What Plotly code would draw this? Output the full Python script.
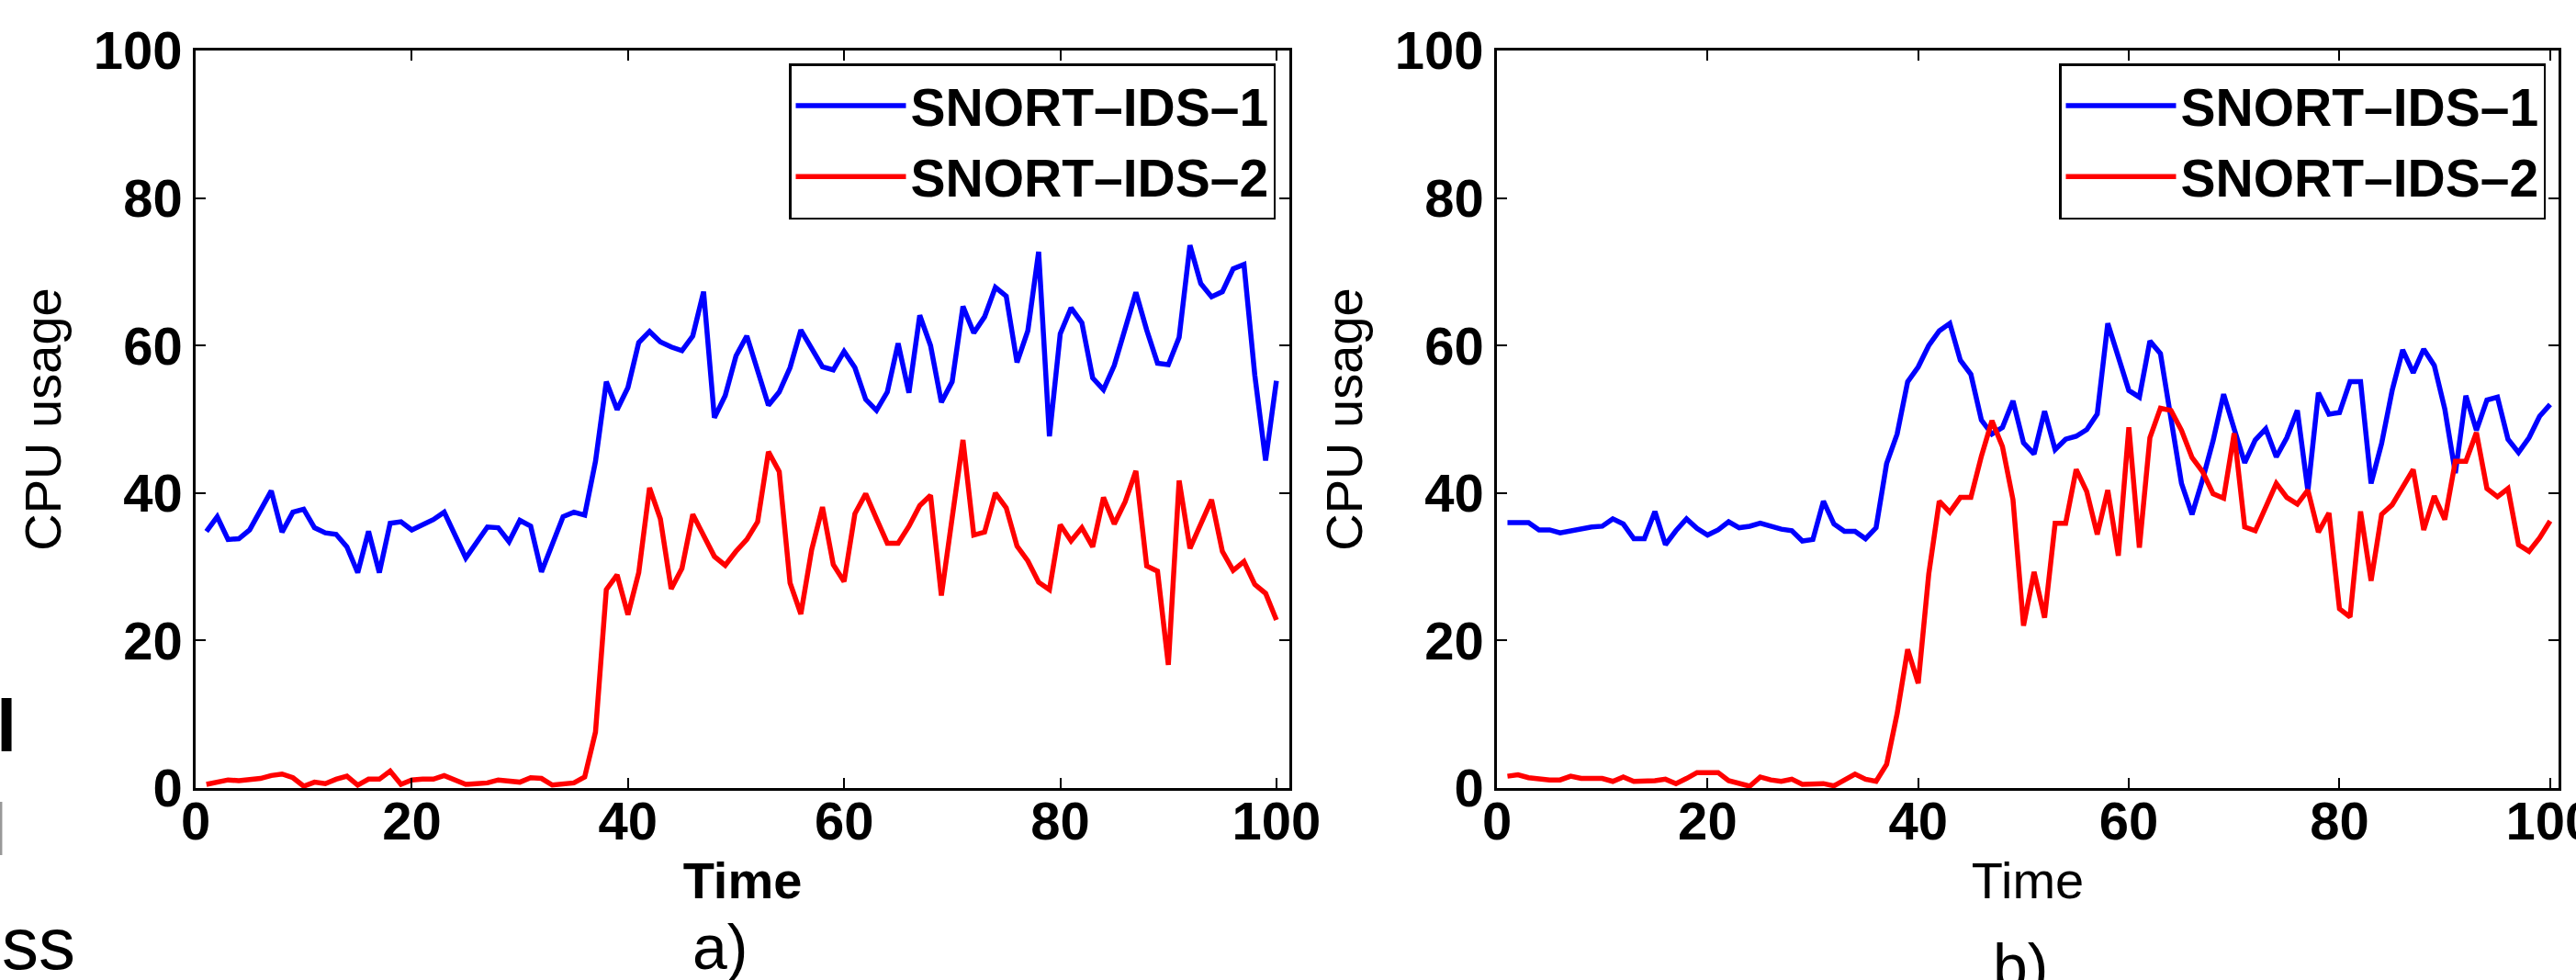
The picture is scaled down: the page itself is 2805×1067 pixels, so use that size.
import plotly.graph_objects as go

# ---------------- data ----------------
time = list(range(1, 101))

a_ids1 = [34.8, 36.8, 33.7, 33.8, 35.0, 37.8, 40.3, 34.7, 37.4, 37.8,
          35.3, 34.6, 34.4, 32.7, 29.2, 34.8, 29.2, 35.9, 36.1, 35.0,
          35.7, 36.4, 37.4, 34.3, 31.2, 33.3, 35.4, 35.3, 33.4, 36.3,
          35.5, 29.3, 32.9, 36.8, 37.4, 37.0, 44.3, 55.1, 51.3, 54.3,
          60.4, 61.9, 60.5, 59.8, 59.3, 61.3, 67.3, 50.2, 53.2, 58.6,
          61.3, 56.5, 51.9, 53.7, 57.0, 62.1, 59.7, 57.1, 56.7, 59.2,
          57.0, 52.7, 51.2, 53.7, 60.3, 53.6, 64.1, 60.0, 52.3, 55.1,
          65.3, 61.7, 63.9, 67.9, 66.7, 57.7, 62.0, 72.7, 47.7, 61.6,
          65.1, 63.1, 55.6, 54.0, 57.3, 62.1, 67.2, 62.1, 57.6, 57.4,
          61.1, 73.6, 68.4, 66.6, 67.3, 70.4, 71.0, 56.0, 44.4, 55.2]

a_ids2 = [0.5, 0.8, 1.1, 1.0, 1.2, 1.3, 1.7, 1.9, 1.4, 0.25,
          0.8, 0.6, 1.2, 1.6, 0.4, 1.2, 1.2, 2.3, 0.5, 1.1,
          1.2, 1.2, 1.7, 1.1, 0.5, 0.6, 0.7, 1.1, 1.0, 0.8,
          1.4, 1.3, 0.4, 0.5, 0.7, 1.5, 7.6, 26.9, 28.9, 23.5,
          29.2, 40.7, 36.5, 27.0, 29.8, 37.1, 34.3, 31.4, 30.2, 32.1,
          33.7, 36.1, 45.6, 42.9, 27.8, 23.6, 32.3, 38.1, 30.3, 28.0,
          37.2, 39.9, 36.5, 33.2, 33.2, 35.5, 38.3, 39.7, 26.1, 37.2,
          47.2, 34.3, 34.7, 40.0, 38.0, 32.8, 30.8, 27.9, 26.9, 35.7,
          33.5, 35.3, 32.7, 39.4, 35.8, 38.8, 43.0, 30.1, 29.4, 16.7,
          41.7, 32.5, 36.0, 39.1, 32.1, 29.5, 30.7, 27.6, 26.4, 22.8]

b_ids1 = [36.0, 36.0, 36.0, 35.0, 35.0, 34.6, 34.9, 35.1, 35.4, 35.5,
          36.5, 35.8, 33.8, 33.8, 37.5, 33.0, 34.9, 36.5, 35.2, 34.3,
          35.0, 36.1, 35.3, 35.5, 35.9, 35.5, 35.1, 34.9, 33.5, 33.7,
          38.9, 35.8, 34.8, 34.8, 33.8, 35.3, 44.0, 48.0, 55.1, 57.1,
          60.0, 62.0, 63.0, 58.0, 56.1, 49.9, 48.0, 48.9, 52.5, 46.8,
          45.3, 51.1, 45.9, 47.3, 47.7, 48.6, 50.7, 63.0, 58.5, 53.9,
          53.0, 60.6, 58.9, 50.1, 41.3, 37.1, 41.8, 47.1, 53.4, 48.7,
          44.1, 47.2, 48.7, 44.9, 47.5, 51.2, 40.3, 53.6, 50.7, 50.9,
          55.1, 55.1, 41.3, 46.7, 53.9, 59.4, 56.3, 59.5, 57.3, 51.4,
          42.7, 53.2, 48.5, 52.6, 53.0, 47.3, 45.5, 47.5, 50.4, 52.0]

b_ids2 = [1.6, 1.8, 1.4, 1.2, 1.1, 1.1, 1.6, 1.3, 1.3, 1.3,
          0.9, 1.5, 0.9, 0.9, 1.0, 1.2, 0.6, 1.3, 2.1, 2.1,
          2.1, 1.0, 0.6, 0.25, 1.5, 1.1, 0.9, 1.2, 0.5, 0.6,
          0.6, 0.3, 1.1, 1.9, 1.2, 0.9, 3.2, 10.1, 18.8, 14.2,
          29.0, 38.9, 37.4, 39.4, 39.4, 45.0, 49.8, 46.3, 39.1, 22.0,
          29.3, 23.1, 35.9, 35.9, 43.2, 40.2, 34.4, 40.4, 31.5, 48.9,
          32.6, 47.5, 51.5, 51.2, 48.5, 44.8, 42.9, 39.9, 39.3, 48.1,
          35.4, 34.9, 38.1, 41.3, 39.4, 38.5, 40.4, 34.7, 37.3, 24.3,
          23.2, 37.5, 28.1, 37.1, 38.4, 40.7, 43.2, 35.0, 39.6, 36.4,
          44.3, 44.3, 48.2, 40.6, 39.5, 40.6, 33.0, 32.1, 33.9, 36.2]

series_names = ["SNORT\u2013IDS\u20131", "SNORT\u2013IDS\u20132"]
series_colors = ["#0000ff", "#ff0000"]
tick_vals = [0, 20, 40, 60, 80, 100]

# ---------------- figure ----------------
W, H = 2805, 1067
FONT = "Liberation Sans, Arial, Helvetica, sans-serif"
LW = 5.5


def px(p):
    """page x pixel -> paper fraction"""
    return p / W


def py(p):
    """page y pixel (from top) -> paper fraction"""
    return (H - p) / H


fig = go.Figure()
fig.add_trace(go.Scatter(x=time, y=a_ids1, mode="lines", name=series_names[0],
                         line=dict(color=series_colors[0], width=LW),
                         xaxis="x", yaxis="y", legend="legend"))
fig.add_trace(go.Scatter(x=time, y=a_ids2, mode="lines", name=series_names[1],
                         line=dict(color=series_colors[1], width=LW),
                         xaxis="x", yaxis="y", legend="legend"))
fig.add_trace(go.Scatter(x=time, y=b_ids1, mode="lines", name=series_names[0],
                         line=dict(color=series_colors[0], width=LW),
                         xaxis="x2", yaxis="y2", legend="legend2"))
fig.add_trace(go.Scatter(x=time, y=b_ids2, mode="lines", name=series_names[1],
                         line=dict(color=series_colors[1], width=LW),
                         xaxis="x2", yaxis="y2", legend="legend2"))

ydom = [py(858), py(55)]
tickfont = dict(family=FONT, size=58, color="black", weight="bold")


def xax(domain, rng, anchor, bold_title):
    return dict(domain=domain, range=rng, anchor=anchor, automargin=False,
                tickvals=tick_vals, ticks="inside", ticklen=11, tickwidth=1.5,
                tickcolor="black", showline=True, linecolor="black", linewidth=2.5,
                mirror="ticks", showgrid=False, zeroline=False,
                tickfont=tickfont, ticklabeloverflow="allow", ticklabelstandoff=-16,
                title=dict(text="Time", standoff=14,
                           font=dict(family=FONT, size=56, color="black",
                                     weight="bold" if bold_title else "normal")))


def yax(anchor):
    return dict(domain=ydom, range=[0, 100], anchor=anchor, automargin=False,
                tickvals=tick_vals, ticks="inside", ticklen=11, tickwidth=1.5,
                tickcolor="black", showline=True, linecolor="black", linewidth=2.5,
                mirror="ticks", showgrid=False, zeroline=False,
                tickfont=tickfont, ticklabeloverflow="allow",
                title=dict(text="CPU usage", standoff=18,
                           font=dict(family=FONT, size=56, color="black")))


legend_common = dict(bordercolor="black", borderwidth=2.5, bgcolor="white",
                     font=dict(family=FONT, size=57, color="black", weight="bold"),
                     xref="paper", yref="paper", xanchor="right", yanchor="top",
                     itemwidth=120, tracegroupgap=0, traceorder="normal")

fig.update_layout(
    width=W, height=H,
    margin=dict(l=0, r=0, t=0, b=0, autoexpand=False),
    paper_bgcolor="white", plot_bgcolor="white",
    showlegend=True,
    xaxis=xax([px(213), px(1404)], [0, 101.2], "y", True),
    yaxis=yax("x"),
    xaxis2=xax([px(1630), px(2786)], [0, 100.8], "y2", False),
    yaxis2=yax("x2"),
    legend=dict(x=px(1389), y=py(69), **legend_common),
    legend2=dict(x=px(2772), y=py(69), **legend_common),
)

# panel captions and clipped text fragments at the left edge
fig.add_annotation(text="a)", x=px(784), y=py(1031), xref="paper", yref="paper",
                   showarrow=False, xanchor="center", yanchor="middle",
                   font=dict(family=FONT, size=68, color="black"))
fig.add_annotation(text="b)", x=px(2200), y=py(1052), xref="paper", yref="paper",
                   showarrow=False, xanchor="center", yanchor="middle",
                   font=dict(family=FONT, size=68, color="black"))
fig.add_annotation(text="l", x=px(-6), y=py(790), xref="paper", yref="paper",
                   showarrow=False, xanchor="left", yanchor="middle",
                   font=dict(family=FONT, size=80, color="black", weight="bold"))
fig.add_annotation(text="l", x=px(-12), y=py(903), xref="paper", yref="paper",
                   showarrow=False, xanchor="left", yanchor="middle",
                   font=dict(family=FONT, size=80, color="#999999"))
fig.add_annotation(text="ss", x=px(0), y=py(1027), xref="paper", yref="paper",
                   showarrow=False, xanchor="left", yanchor="middle",
                   font=dict(family=FONT, size=80, color="black"))

fig.write_html("out.html",
               config={"displayModeBar": False},
               post_script="document.body.style.margin='0';")
